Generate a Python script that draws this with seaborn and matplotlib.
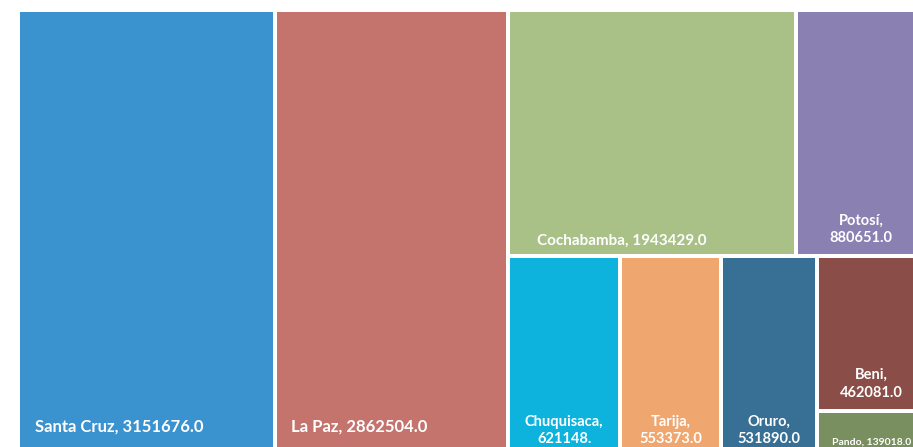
import matplotlib.pyplot as plt
import seaborn as sns
from matplotlib.patches import Rectangle

# departments of Bolivia, population
departments = ["Santa Cruz", "La Paz", "Cochabamba", "Potosí", "Chuquisaca",
               "Tarija", "Oruro", "Beni", "Pando"]
population = [3151676.0, 2862504.0, 1943429.0, 880651.0, 621148.0,
              553373.0, 531890.0, 462081.0, 139018.0]
value_labels = ["3151676.0", "2862504.0", "1943429.0", "880651.0", "621148.",
                "553373.0", "531890.0", "462081.0", "139018.0"]
colors = ["#3a92cf", "#c5746d", "#a9c187", "#8b80b2", "#0eb3dd",
          "#f0a76f", "#376f95", "#8a4d48", "#7a8f5f"]

# strip structure of the squarified layout: (items in strip, orientation)
STRIPS = [(1, "col"), (1, "col"), (2, "row"), (1, "col"), (1, "col"),
          (1, "col"), (2, "col")]
GAP = 4


def strip_layout(values, x0, y0, x1, y1):
    rects = []
    remaining = sum(values)
    i = 0
    for count, orient in STRIPS:
        chunk = values[i:i + count]
        s = sum(chunk)
        if orient == "col":
            # full-height column, children stacked vertically
            w = (x1 - x0) * s / remaining
            yy = y0
            for v in chunk:
                ch = (y1 - y0) * v / s
                rects.append((x0, yy, x0 + w, yy + ch))
                yy += ch
            x0 += w
        else:
            # full-width row, children side by side
            h = (y1 - y0) * s / remaining
            xx = x0
            for v in chunk:
                cw = (x1 - x0) * v / s
                rects.append((xx, y0, xx + cw, y0 + h))
                xx += cw
            y0 += h
        remaining -= s
        i += count
    return rects


sns.set_style("white")
plt.rcParams["font.family"] = ["Lato", "DejaVu Sans"]

fig = plt.figure(figsize=(9.13, 4.47), dpi=100)
ax = fig.add_axes([0, 0, 1, 1])
ax.set_xlim(0, 913)
ax.set_ylim(447, 0)
ax.axis("off")

rects = strip_layout(population, 18, 10, 926, 457)

for k, (x0, y0, x1, y1) in enumerate(rects):
    w = x1 - x0
    h = y1 - y0
    ax.add_patch(Rectangle((x0 + GAP / 2, y0 + GAP / 2), w - GAP, h - GAP,
                           facecolor=colors[k], edgecolor="none"))
    name = departments[k]
    if h < 60:
        ax.text((x0 + x1) / 2, y1 - 15, f"{name}, {value_labels[k]}",
                color="white", fontsize=7.5, fontweight="bold",
                ha="center", va="center")
    elif w > 200:
        big = h > 300
        offset = 0.06 * w if big else 0.095 * w
        ax.text(x0 + 2 + offset, y1 - (0.075 * h - 3),
                f"{name}, {value_labels[k]}", color="white",
                fontsize=12 if big else 11, fontweight="bold",
                ha="left", va="center")
    else:
        ax.text((x0 + x1) / 2, y1 - 11, f"{name},\n{value_labels[k]}",
                color="white", fontsize=10.5, fontweight="bold",
                ha="center", va="bottom", linespacing=1.3)

fig.savefig("out.png", dpi=100)
plt.close(fig)
